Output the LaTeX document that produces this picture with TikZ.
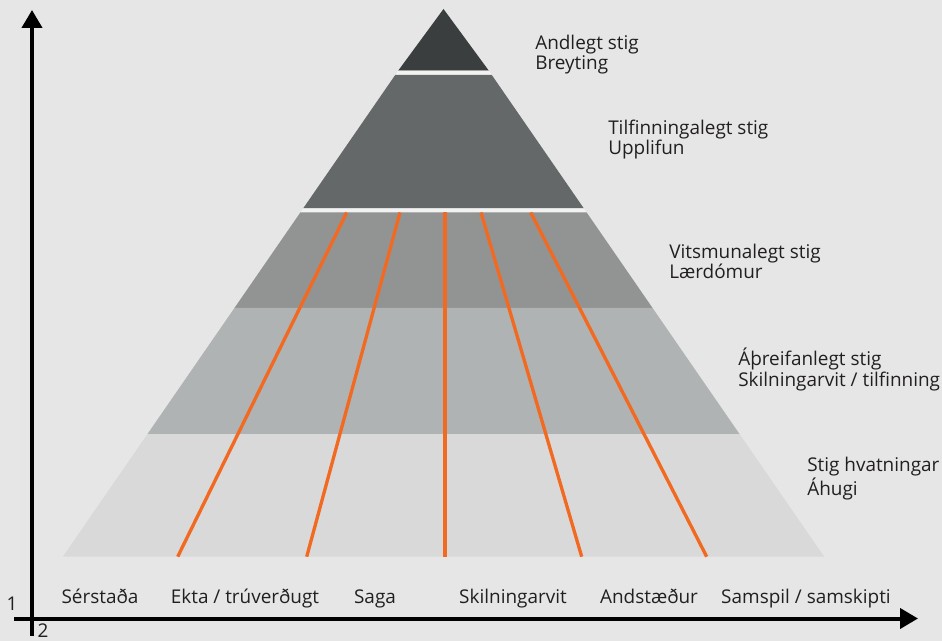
\documentclass[tikz,border=0pt]{standalone}
\usepackage{fontspec}
\setmainfont{Open Sans}
\usetikzlibrary{arrows.meta}
\definecolor{bg}{HTML}{E6E6E6}
\definecolor{gap}{HTML}{F2F2F2}
\definecolor{lvlA}{HTML}{3A3E3F}
\definecolor{lvlB}{HTML}{656868}
\definecolor{lvlC}{HTML}{929493}
\definecolor{lvlD}{HTML}{B0B3B3}
\definecolor{lvlE}{HTML}{D9D9D9}
\definecolor{ray}{HTML}{F26A21}
\definecolor{ink}{HTML}{231F20}

\begin{document}
\begin{tikzpicture}[x=0.75pt,y=-0.75pt,
  lbl/.style={text=ink,inner sep=0pt,font=\fontsize{14.2}{15.4}\selectfont},
  stage/.style={lbl,anchor=base west,align=left},
  topic/.style={lbl,anchor=base},
  rayline/.style={draw=ray,line width=2.5pt},
  axis/.style={draw=black,line width=3pt,-{Triangle[length=13.5pt,width=15pt]}}]
\def\ax{443.5};
\def\ay{5};
\def\sl{0.69};

\fill[bg] (0,0) rectangle (942,641);
\useasboundingbox (0,0) rectangle (942,641);

% pyramid levels
\fill[lvlA] (\ax,9) -- ({\ax+\sl*(70.7-\ay)},70.7) -- ({\ax-\sl*(70.7-\ay)},70.7) -- cycle;
\fill[gap] ({\ax-\sl*(70.7-\ay)},70.7) -- ({\ax+\sl*(70.7-\ay)},70.7) -- ({\ax+\sl*(75-\ay)},75) -- ({\ax-\sl*(75-\ay)},75) -- cycle;
\fill[lvlB] ({\ax-\sl*(75-\ay)},75) -- ({\ax+\sl*(75-\ay)},75) -- ({\ax+\sl*(208.3-\ay)},208.3) -- ({\ax-\sl*(208.3-\ay)},208.3) -- cycle;
\fill[gap] ({\ax-\sl*(208.3-\ay)},208.3) -- ({\ax+\sl*(208.3-\ay)},208.3) -- ({\ax+\sl*(212.5-\ay)},212.5) -- ({\ax-\sl*(212.5-\ay)},212.5) -- cycle;
\fill[lvlC] ({\ax-\sl*(212.5-\ay)},212.5) -- ({\ax+\sl*(212.5-\ay)},212.5) -- ({\ax+\sl*(308-\ay)},308) -- ({\ax-\sl*(308-\ay)},308) -- cycle;
\fill[lvlD] ({\ax-\sl*(308-\ay)},308) -- ({\ax+\sl*(308-\ay)},308) -- ({\ax+\sl*(434-\ay)},434) -- ({\ax-\sl*(434-\ay)},434) -- cycle;
\fill[lvlE] ({\ax-\sl*(434-\ay)},434) -- ({\ax+\sl*(434-\ay)},434) -- ({\ax+\sl*(556.7-\ay)},556.7) -- ({\ax-\sl*(556.7-\ay)},556.7) -- cycle;

% orange lines
\coordinate (r1t) at (346.7,212.5); \coordinate (r1b) at (177.7,556.7);
\coordinate (r2t) at (400,212.5);   \coordinate (r2b) at (306.7,556.7);
\coordinate (r3t) at (445,212.5);   \coordinate (r3b) at (445,556.7);
\coordinate (r4t) at (481,212.5);   \coordinate (r4b) at (581.7,556.7);
\coordinate (r5t) at (530.7,212.5); \coordinate (r5b) at (706.7,556.7);
\draw[rayline] (r1t) -- (r1b);
\draw[rayline] (r2t) -- (r2b);
\draw[rayline] (r3t) -- (r3b);
\draw[rayline] (r4t) -- (r4b);
\draw[rayline] (r5t) -- (r5b);

% axes
\coordinate (O) at (32,618.5);
\coordinate (xL) at (14,618.5);
\coordinate (xR) at (918,618.5);
\coordinate (yB) at (32,636);
\coordinate (yT) at (32,10);
\draw[axis] (xL) -- (xR);
\draw[axis] (yB) -- (yT);
\node[topic] (one) at (12,610) {1};
\node[topic] (two) at (43,637) {2};

% levels (base = last line)
\node[stage] (andl) at (535,70) {Andlegt stig\\Breyting};
\node[stage] (tilf) at (608,155) {Tilfinningalegt stig\\Upplifun};
\node[stage] (vits) at (669,279) {Vitsmunalegt stig\\Lærdómur};
\node[stage] (athr) at (738,386.5) {Áþreifanlegt stig\\Skilningarvit / tilfinning};
\node[stage] (hvat) at (807,495.5) {Stig hvatningar\\Áhugi};

% topics
\node[topic] (serst) at (100,603.3) {Sérstaða};
\node[topic] (ekta) at (245,603.3) {Ekta / trúverðugt};
\node[topic] (saga) at (375,603.3) {Saga};
\node[topic] (skiln) at (513,603.3) {Skilningarvit};
\node[topic] (andst) at (649,603.3) {Andstæður};
\node[topic] (samsp) at (806,603.3) {Samspil / samskipti};

\end{tikzpicture}
\end{document}
